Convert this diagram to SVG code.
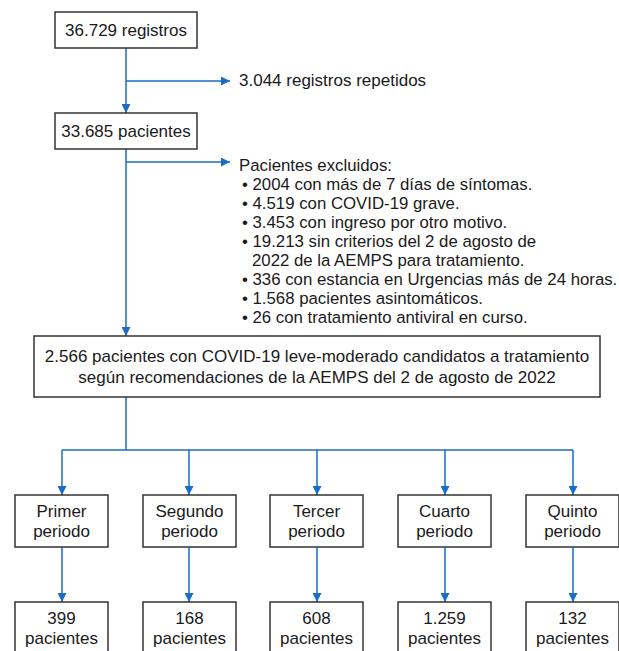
<svg xmlns="http://www.w3.org/2000/svg" width="619" height="651" viewBox="0 0 619 651">
<defs>
<marker id="ah" viewBox="0 0 10 10" refX="10" refY="5" markerWidth="9" markerHeight="9" markerUnits="userSpaceOnUse" orient="auto">
<path d="M0,0 L10,5 L0,10 z" fill="#1a6cc4"/>
</marker>
<style>
.box{fill:#fff;stroke:#333;stroke-width:1.5}
.t{font-family:"Liberation Sans",Arial,sans-serif;font-size:17px;fill:#1a1a1a}
.s{font-size:16.8px}
.c{text-anchor:middle}
.ln{fill:none;stroke:#1a6cc4;stroke-width:1.5}
</style>
</defs>
<rect width="619" height="651" fill="#fff"/>
<g id="connectors">
<path class="ln" d="M126,48 V113" marker-end="url(#ah)"/>
<path class="ln" d="M126,81 H230" marker-end="url(#ah)"/>
<path class="ln" d="M126,149 V336" marker-end="url(#ah)"/>
<path class="ln" d="M126,162 H230" marker-end="url(#ah)"/>
<path class="ln" d="M126,397 V450 M62,450 H573"/>
<path class="ln" d="M62,450 V495" marker-end="url(#ah)"/>
<path class="ln" d="M189,450 V495" marker-end="url(#ah)"/>
<path class="ln" d="M317,450 V495" marker-end="url(#ah)"/>
<path class="ln" d="M445,450 V495" marker-end="url(#ah)"/>
<path class="ln" d="M573,450 V495" marker-end="url(#ah)"/>
<path class="ln" d="M62,547 V602" marker-end="url(#ah)"/>
<path class="ln" d="M189,547 V602" marker-end="url(#ah)"/>
<path class="ln" d="M317,547 V602" marker-end="url(#ah)"/>
<path class="ln" d="M445,547 V602" marker-end="url(#ah)"/>
<path class="ln" d="M573,547 V602" marker-end="url(#ah)"/>
</g>
<g id="n_registros">
<rect class="box" x="55" y="12" width="142" height="36"/>
<text class="t c" x="126" y="36">36.729 registros</text>
</g>
<g id="n_repetidos">
<text class="t" x="239" y="86">3.044 registros repetidos</text>
</g>
<g id="n_pacientes">
<rect class="box" x="55" y="113" width="142" height="36"/>
<text class="t c" x="126" y="137">33.685 pacientes</text>
</g>
<g id="n_excluidos">
<text class="t s" x="239" y="171">Pacientes excluidos:</text>
<text class="t s" x="242" y="190">• 2004 con más de 7 días de síntomas.</text>
<text class="t s" x="242" y="209">• 4.519 con COVID-19 grave.</text>
<text class="t s" x="242" y="228">• 3.453 con ingreso por otro motivo.</text>
<text class="t s" x="242" y="247">• 19.213 sin criterios del 2 de agosto de</text>
<text class="t s" x="252" y="266">2022 de la AEMPS para tratamiento.</text>
<text class="t s" x="242" y="285">• 336 con estancia en Urgencias más de 24 horas.</text>
<text class="t s" x="242" y="304">• 1.568 pacientes asintomáticos.</text>
<text class="t s" x="242" y="323">• 26 con tratamiento antiviral en curso.</text>
</g>
<g id="n_candidatos">
<rect class="box" x="34" y="336" width="566" height="61"/>
<text class="t c" x="317" y="362">2.566 pacientes con COVID-19 leve-moderado candidatos a tratamiento</text>
<text class="t c" x="317" y="383">según recomendaciones de la AEMPS del 2 de agosto de 2022</text>
</g>
<g id="n_p1">
<rect class="box" x="15" y="495" width="93" height="52"/>
<text class="t c" x="61.5" y="517">Primer</text>
<text class="t c" x="61.5" y="537">periodo</text>
</g>
<g id="n_p2">
<rect class="box" x="143" y="495" width="93" height="52"/>
<text class="t c" x="189.5" y="517">Segundo</text>
<text class="t c" x="189.5" y="537">periodo</text>
</g>
<g id="n_p3">
<rect class="box" x="270" y="495" width="93" height="52"/>
<text class="t c" x="316.5" y="517">Tercer</text>
<text class="t c" x="316.5" y="537">periodo</text>
</g>
<g id="n_p4">
<rect class="box" x="398" y="495" width="93" height="52"/>
<text class="t c" x="444.5" y="517">Cuarto</text>
<text class="t c" x="444.5" y="537">periodo</text>
</g>
<g id="n_p5">
<rect class="box" x="526" y="495" width="93" height="52"/>
<text class="t c" x="572.5" y="517">Quinto</text>
<text class="t c" x="572.5" y="537">periodo</text>
</g>
<g id="n_r1">
<rect class="box" x="15" y="602" width="93" height="60"/>
<text class="t c" x="61.5" y="624">399</text>
<text class="t c" x="61.5" y="644">pacientes</text>
</g>
<g id="n_r2">
<rect class="box" x="143" y="602" width="93" height="60"/>
<text class="t c" x="189.5" y="624">168</text>
<text class="t c" x="189.5" y="644">pacientes</text>
</g>
<g id="n_r3">
<rect class="box" x="270" y="602" width="93" height="60"/>
<text class="t c" x="316.5" y="624">608</text>
<text class="t c" x="316.5" y="644">pacientes</text>
</g>
<g id="n_r4">
<rect class="box" x="398" y="602" width="93" height="60"/>
<text class="t c" x="444.5" y="624">1.259</text>
<text class="t c" x="444.5" y="644">pacientes</text>
</g>
<g id="n_r5">
<rect class="box" x="526" y="602" width="93" height="60"/>
<text class="t c" x="572.5" y="624">132</text>
<text class="t c" x="572.5" y="644">pacientes</text>
</g>
</svg>
